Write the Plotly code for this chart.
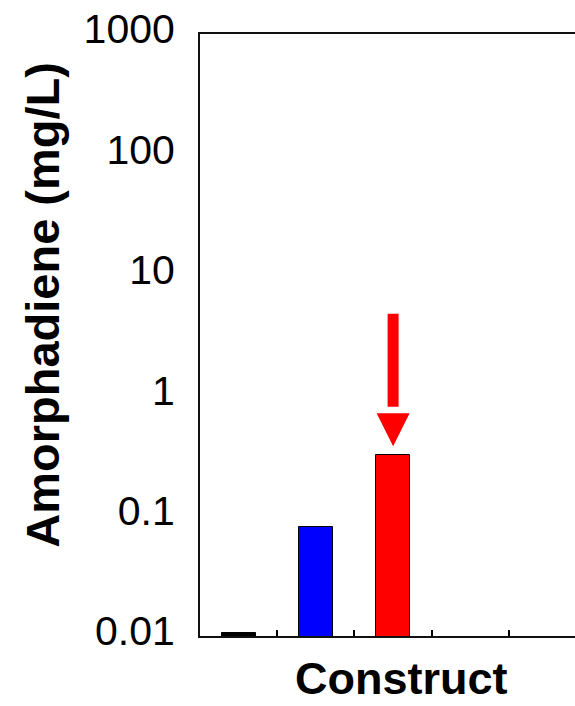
import plotly.graph_objects as go

# Amorphadiene titre per construct (mg/L)
constructs = [0, 1, 2]
titres = [0.0106, 0.080, 0.32]
bar_colors = ["#000000", "#0000FF", "#FF0000"]

# Highlight arrow above the best construct (mg/L)
arrow_top = 4.75
arrow_shaft_end = 0.8
arrow_tip = 0.376
arrow_construct = 2

y_tick_vals = [0.01, 0.1, 1, 10, 100, 1000]
y_tick_text = ["0.01", "0.1", "1", "10", "100", "1000"]
x_divider_ticks = [0.5, 1.5, 2.5, 3.5]

FONT = "Liberation Sans, Arial, Helvetica, sans-serif"

fig = go.Figure()

fig.add_trace(go.Bar(
    x=constructs,
    y=titres,
    width=0.44,
    marker=dict(color=bar_colors, line=dict(color="#000000", width=1)),
    showlegend=False,
))

# arrow shaft
fig.add_trace(go.Scatter(
    x=[arrow_construct, arrow_construct],
    y=[arrow_top, arrow_shaft_end],
    mode="lines",
    line=dict(color="#FF0000", width=11),
    showlegend=False,
    hoverinfo="skip",
))
# arrow head
fig.add_trace(go.Scatter(
    x=[arrow_construct],
    y=[arrow_tip],
    mode="markers",
    marker=dict(symbol="arrow-down", size=33, color="#FF0000",
                line=dict(width=0)),
    showlegend=False,
    hoverinfo="skip",
))

fig.update_layout(
    width=575,
    height=706,
    margin=dict(l=200, r=0, t=34, b=70),
    paper_bgcolor="white",
    plot_bgcolor="white",
    font=dict(family=FONT, color="#000000"),
    bargap=0,
    xaxis=dict(
        range=[-0.5, 4.355],
        tickmode="array",
        tickvals=x_divider_ticks,
        showticklabels=False,
        ticks="inside",
        ticklen=6,
        tickwidth=2,
        tickcolor="#000000",
        showgrid=False,
        zeroline=False,
        showline=True,
        linecolor="#111111",
        linewidth=2,
        mirror=True,
    ),
    yaxis=dict(
        type="log",
        range=[-2, 3],
        tickmode="array",
        tickvals=y_tick_vals,
        ticktext=y_tick_text,
        ticks="",
        tickfont=dict(size=41, family=FONT, color="#000000"),
        ticklabelstandoff=15,
        ticklabelshift=-5,
        showgrid=False,
        zeroline=False,
        showline=True,
        linecolor="#111111",
        linewidth=2,
    ),
    annotations=[
        dict(
            text="Amorphadiene (mg/L)",
            xref="paper", yref="paper",
            x=0, y=(636.5 - 305) / 602.5,
            xanchor="center", yanchor="middle",
            xshift=-(200 - 43),
            textangle=-90,
            showarrow=False,
            font=dict(size=47, family=FONT, weight="bold", color="#000000"),
        ),
        dict(
            text="Construct",
            xref="paper", yref="paper",
            x=(401 - 200) / 375, y=0,
            xanchor="center", yanchor="middle",
            yshift=-(679 - 636.5),
            showarrow=False,
            font=dict(size=45, family=FONT, weight="bold", color="#000000"),
        ),
    ],
)

fig.write_html("out.html")
